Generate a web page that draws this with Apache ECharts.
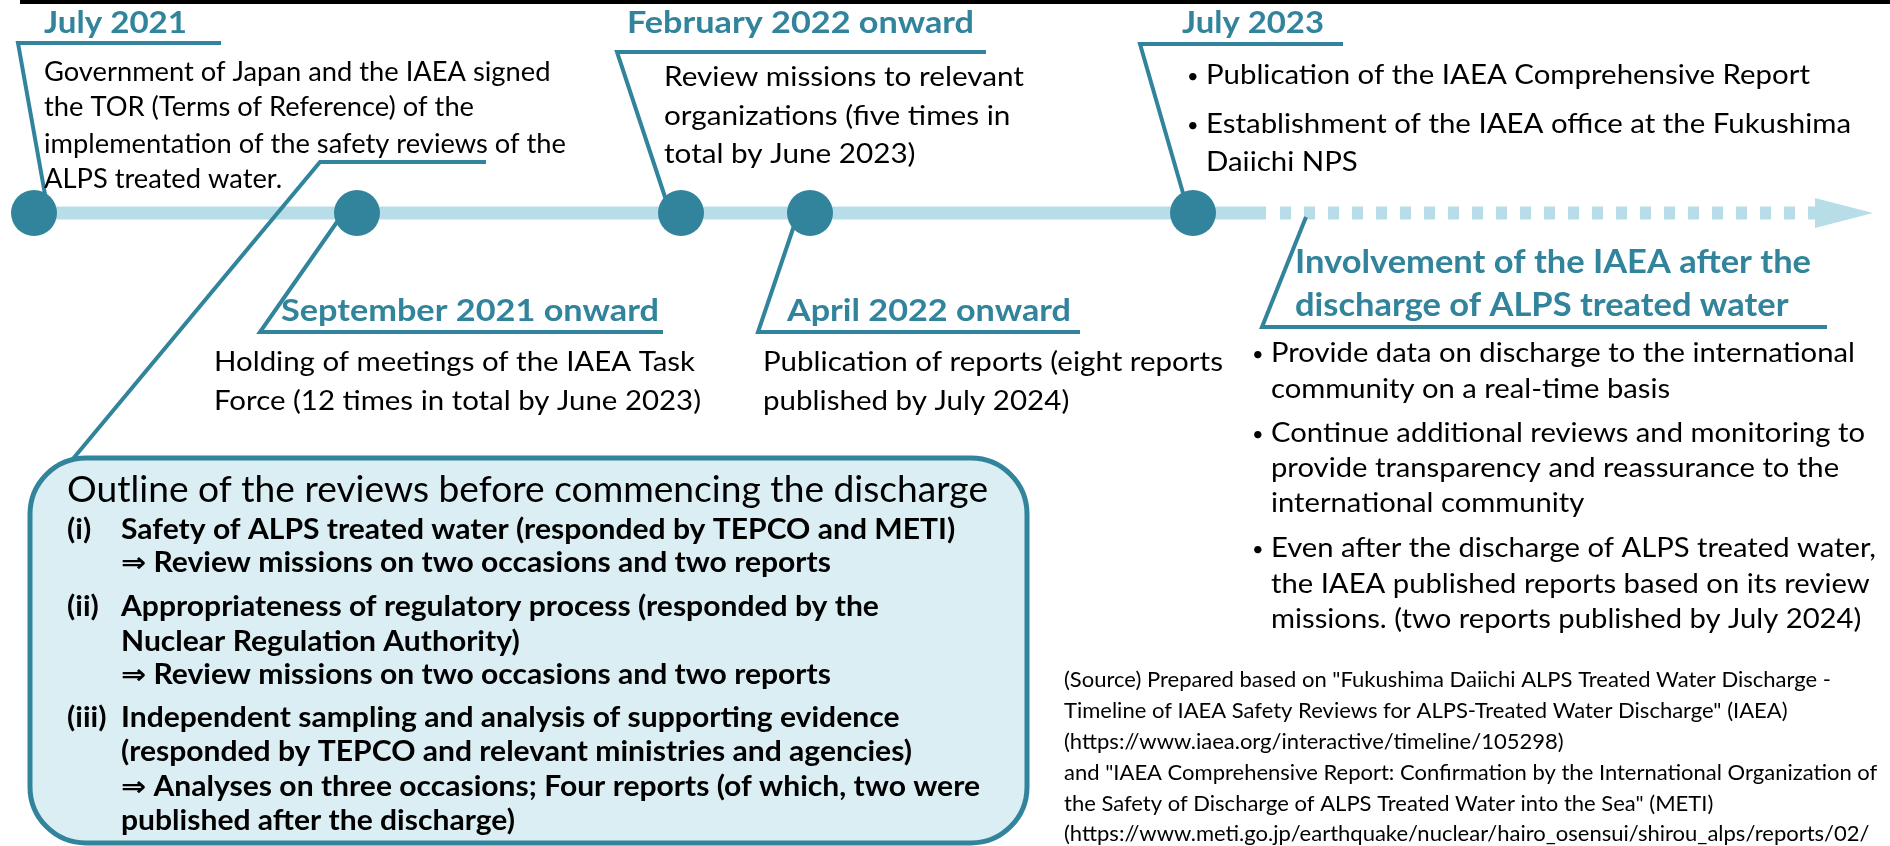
<!DOCTYPE html>
<html lang="en">
<head>
<meta charset="UTF-8" />
<title>IAEA safety review timeline</title>
<script src="https://cdn.jsdelivr.net/npm/echarts@6/dist/echarts.min.js"></script>
<style>
  html, body { margin: 0; padding: 0; background: #fff; }
  #main { width: 1890px; height: 846px; }
</style>
</head>
<body>
<div id="main"></div>
<script>
// milestones on the timeline
var milestones = ['July 2021', 'September 2021 onward', 'February 2022 onward', 'April 2022 onward', 'July 2023'];
var milestoneX = [34, 357, 681, 810, 1193];

var julyText = ['Government of Japan and the IAEA signed', 'the TOR (Terms of Reference) of the',
  'implementation of the safety reviews of the', 'ALPS treated water.'];
var febText = ['Review missions to relevant', 'organizations (five times in', 'total by June 2023)'];
var july23Text = ['Publication of the IAEA Comprehensive Report', 'Establishment of the IAEA office at the Fukushima', 'Daiichi NPS'];
var sepText = ['Holding of meetings of the IAEA Task', 'Force (12 times in total by June 2023)'];
var aprText = ['Publication of reports (eight reports', 'published by July 2024)'];
var afterTitle = ['Involvement of the IAEA after the', 'discharge of ALPS treated water'];
var afterText = ['Provide data on discharge to the international', 'community on a real-time basis',
  'Continue additional reviews and monitoring to', 'provide transparency and reassurance to the', 'international community',
  'Even after the discharge of ALPS treated water,', 'the IAEA published reports based on its review',
  'missions. (two reports published by July 2024)'];
var afterBullets = [0, 2, 5];
var boxTitle = 'Outline of the reviews before commencing the discharge';
var boxLabels = ['(i)', '', '(ii)', '', '', '(iii)', '', '', ''];
var boxText = ['Safety of ALPS treated water (responded by TEPCO and METI)',
  '\u21d2 Review missions on two occasions and two reports',
  'Appropriateness of regulatory process (responded by the',
  'Nuclear Regulation Authority)',
  '\u21d2 Review missions on two occasions and two reports',
  'Independent sampling and analysis of supporting evidence',
  '(responded by TEPCO and relevant ministries and agencies)',
  '\u21d2 Analyses on three occasions; Four reports (of which, two were',
  'published after the discharge)'];
var sourceText = ['(Source) Prepared based on "Fukushima Daiichi ALPS Treated Water Discharge -',
  'Timeline of IAEA Safety Reviews for ALPS-Treated Water Discharge" (IAEA)',
  '(https://www.iaea.org/interactive/timeline/105298)',
  'and "IAEA Comprehensive Report: Confirmation by the International Organization of',
  'the Safety of Discharge of ALPS Treated Water into the Sea" (METI)',
  '(https://www.meti.go.jp/earthquake/nuclear/hairo_osensui/shirou_alps/reports/02/'];

var TEAL = '#31849b', BAR = '#b7dee8', BOXFILL = '#daeef3';
var FONT = "Lato, 'DejaVu Sans', sans-serif";
var LINE_Y = 213;

var mctx = document.createElement('canvas').getContext('2d');
function measure(t, size, weight) {
  mctx.font = weight + ' ' + size + 'px ' + FONT;
  return mctx.measureText(t).width;
}
// one line of text, placed by its baseline, squeezed to sx
function txt(t, x, base, size, weight, color, sx) {
  return {
    type: 'text', x: x, y: base - 0.387 * size, scaleX: sx, z: 10, silent: true,
    style: {
      text: t, font: weight + ' ' + size + 'px ' + FONT, fill: color,
      align: 'left', verticalAlign: 'middle', textAlign: 'left', textVerticalAlign: 'middle'
    }
  };
}
function block(lines, x, bases, size, weight, color, ref, target) {
  var sx = target / measure(lines[ref], size, weight);
  return lines.map(function (t, i) { return txt(t, x, bases[i], size, weight, color, sx); });
}
function heading(t, x, base, target, size) {
  size = size || 31;
  return txt(t, x, base, size, 'bold', TEAL, target / measure(t, size, 'bold'));
}
function poly(points) {
  return {
    type: 'polyline', z: 3, silent: true,
    shape: { points: points },
    style: { stroke: TEAL, lineWidth: 4, fill: null, lineJoin: 'miter' }
  };
}

var g = [];
g.push({ type: 'rect', z: 3, shape: { x: 20, y: 0, width: 1870, height: 4 }, style: { fill: '#000' } });

// connectors and underlines
g.push(poly([[221, 43], [18, 43], [46, 200]]));
g.push(poly([[986, 52], [617, 52], [666, 200]]));
g.push(poly([[1343, 44], [1140, 44], [1185, 200]]));
g.push(poly([[486, 162], [320, 162], [72, 460]]));
g.push(poly([[344, 212], [260, 332], [663, 332]]));
g.push(poly([[798, 214], [758, 332], [1080, 332]]));
g.push(poly([[1306, 217], [1262, 327], [1827, 327]]));

// outline box
g.push({
  type: 'rect', z: 2,
  shape: { x: 30, y: 458, width: 997, height: 385, r: 56 },
  style: { fill: BOXFILL, stroke: TEAL, lineWidth: 5 }
});

// headings
g.push(heading(milestones[0], 44, 35, 143));
g.push(heading(milestones[2], 627, 35, 347));
g.push(heading(milestones[4], 1182, 35, 142));
g.push(heading(milestones[1], 281, 323, 378));
g.push(heading(milestones[3], 787, 323, 284));
g = g.concat(block(afterTitle, 1295, [275, 318], 33, 'bold', TEAL, 0, 516));

// body texts
g = g.concat(block(julyText, 44, [83, 118, 155, 190], 26, 'normal', '#000', 2, 522));
g = g.concat(block(febText, 664, [88, 127, 165], 26, 'normal', '#000', 0, 360));
g = g.concat(block(july23Text, 1206, [86, 135, 173], 27, 'normal', '#000', 1, 645));
g.push(txt('\u2022', 1187, 84, 20, 'normal', '#000', 1));
g.push(txt('\u2022', 1187, 133, 20, 'normal', '#000', 1));
g = g.concat(block(sepText, 214, [373, 412], 26, 'normal', '#000', 1, 487));
g = g.concat(block(aprText, 763, [373, 412], 26, 'normal', '#000', 0, 460));
var afterBase = [364, 400, 444, 479, 514, 559, 595, 630];
g = g.concat(block(afterText, 1271, afterBase, 27, 'normal', '#000', 5, 605));
afterBullets.forEach(function (i) { g.push(txt('\u2022', 1252, afterBase[i] - 2, 20, 'normal', '#000', 1)); });

// box content
g.push(txt(boxTitle, 67, 504, 36, 'normal', '#000', 921 / measure(boxTitle, 36, 'normal')));
var boxBase = [541, 574, 618, 653, 686, 729, 763, 798, 832];
var boxSx = 859 / measure(boxText[7], 28, 'bold');
g = g.concat(block(boxText, 121, boxBase, 28, 'bold', '#000', 7, 859));
boxLabels.forEach(function (l, i) { if (l) g.push(txt(l, 67, boxBase[i], 28, 'bold', '#000', boxSx)); });

// source
g = g.concat(block(sourceText, 1064, [688, 719, 750, 781, 812, 842], 21, 'normal', '#000', 0, 767));

var chart = echarts.init(document.getElementById('main'));
chart.setOption({
  animation: false,
  grid: { left: 0, right: 0, top: 0, bottom: 0 },
  xAxis: { type: 'value', min: 0, max: 1890, show: false },
  yAxis: { type: 'value', min: 0, max: 846, inverse: true, show: false },
  series: [
    { type: 'line', silent: true, z: 1, symbol: 'none', data: [[20, LINE_Y], [1266, LINE_Y]],
      lineStyle: { color: BAR, width: 13, cap: 'butt' } },
    { type: 'line', silent: true, z: 1, symbol: 'none', data: [[1280, LINE_Y], [1816, LINE_Y]],
      lineStyle: { color: BAR, width: 13, type: [11, 13], cap: 'butt' } },
    { type: 'scatter', silent: true, z: 1, symbol: 'triangle', symbolRotate: -90, symbolSize: [30, 58],
      data: [[1844, LINE_Y]], itemStyle: { color: BAR, opacity: 1 } },
    { type: 'scatter', silent: true, z: 5, symbolSize: 46, itemStyle: { color: TEAL, opacity: 1 },
      data: milestones.map(function (m, i) { return { name: m, value: [milestoneX[i], LINE_Y] }; }) }
  ],
  graphic: { elements: g }
});
</script>
</body>
</html>
